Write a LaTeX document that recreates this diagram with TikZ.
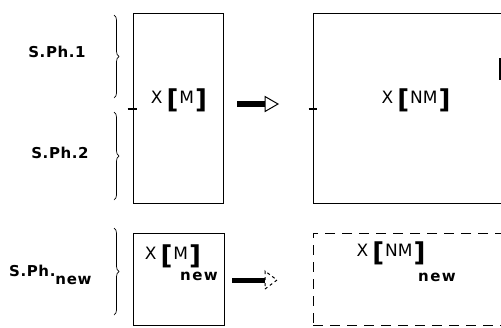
\documentclass[tikz,border=0pt]{standalone}
\usepackage{fontspec}
\setmainfont{DejaVu Sans}
\newfontfamily\labfont[LetterSpace=4]{DejaVu Sans}
\usetikzlibrary{decorations.pathreplacing}

% heavy square brackets used in X[M], X[NM]
\newcommand\heavybr[1]{\raisebox{-5pt}{\fontsize{26}{26}\selectfont\bfseries #1}}
\newcommand\xlabel[1]{{\fontsize{17}{17}\selectfont X\hspace{4pt}\heavybr{[}\hspace{1pt}#1\hspace{1pt}\heavybr{]}}}
\newcommand\newsub{{\fontsize{15}{15}\selectfont\bfseries n\hspace{1.5pt}e\hspace{1.5pt}w}}

\begin{document}
\begin{tikzpicture}[x=1pt,y=-1pt,
  box/.style={draw, line width=0.8pt, inner sep=0pt},
  dbox/.style={box, dash pattern=on 10pt off 7pt},
  phase/.style={font=\labfont\bfseries\fontsize{15}{15}\selectfont, inner sep=0pt},
  lab/.style={inner sep=0pt},
  brc/.style={decorate, decoration={brace, amplitude=5pt, raise=0pt}, line width=0.7pt},
  tick/.style={line width=1.5pt}]
\useasboundingbox (0,0) rectangle (501,327);
\clip (0,0) rectangle (501,327);

% boxes
\node[box, minimum width=90pt, minimum height=190pt] (m) at (178,108) {};
\node[box, minimum width=220pt, minimum height=190pt] (nm) at (423,108) {};
\node[box, minimum width=91pt, minimum height=92pt] (mn) at (178.5,279) {};
\node[dbox, minimum width=220pt, minimum height=92pt] (nmn) at (423,279) {};

% contents
\node[lab] (tm) at (179,100) {\xlabel{M}};
\node[lab] (tnm) at (416,100) {\xlabel{NM}};
\node[lab] (tmn) at (173,256) {\xlabel{M}};
\node[lab] (smn) at (199,276) {\newsub};
\node[lab] (tnmn) at (391,253) {\xlabel{NM}};
\node[lab] (snmn) at (437,277) {\newsub};

% cut-off mark at the right edge
\coordinate (e1) at (500,58);
\coordinate (e2) at (500,80);
\draw[line width=1.4pt] (e1) -- (e2);

% phase ticks on the left edges
\coordinate (t1) at ([xshift=-5pt]m.west |- 0,109);
\coordinate (t2) at ([xshift=4pt]m.west |- 0,109);
\draw[tick] (t1) -- (t2);
\coordinate (t3) at ([xshift=-4pt]nm.west |- 0,109);
\coordinate (t4) at ([xshift=4pt]nm.west |- 0,109);
\draw[tick] (t3) -- (t4);

% braces and phase labels
\coordinate (b1a) at (114,15);
\coordinate (b1b) at (114,98);
\coordinate (b2a) at (114,112);
\coordinate (b2b) at (114,200);
\coordinate (b3a) at (114,228);
\coordinate (b3b) at (114,315);
\draw[brc] (b1a) -- (b1b);
\draw[brc] (b2a) -- (b2b);
\draw[brc] (b3a) -- (b3b);
\node[phase] (p1) at (57,52) {S.Ph.1};
\node[phase] (p2) at (60,153) {S.Ph.2};
\node[phase, anchor=base west] (p3) at (9,276) {S.Ph.\raisebox{-8pt}{new}};

% transformation arrows
\coordinate (a1s) at ([xshift=14pt]m.east |- 0,104);
\coordinate (a1h) at (265,104);
\coordinate (a1t) at (278,104);
\fill ([yshift=3pt]a1s) rectangle ([yshift=-3pt]a1h);
\draw[line width=1pt, fill=white] ([yshift=-7.5pt]a1h) -- (a1t) -- ([yshift=7.5pt]a1h) -- cycle;

\coordinate (a2s) at ([xshift=8pt]mn.east |- 0,280);
\coordinate (a2h) at (265,280);
\coordinate (a2t) at (277,280);
\fill ([yshift=2.5pt]a2s) rectangle ([yshift=-2.5pt]a2h);
\draw[line width=1pt, dash pattern=on 3pt off 3pt] ([yshift=-9pt]a2h) -- (a2t) -- ([yshift=9pt]a2h) -- cycle;
\end{tikzpicture}
\end{document}
